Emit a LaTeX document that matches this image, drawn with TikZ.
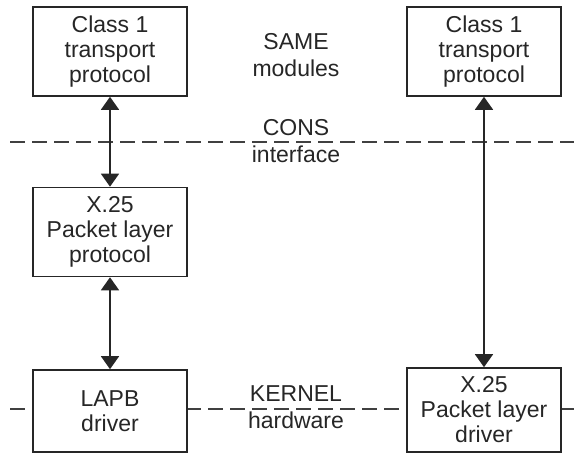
\documentclass[tikz,border=0pt]{standalone}
\usepackage{fontspec}
\setmainfont{Liberation Sans}
\usetikzlibrary{arrows.meta}

\begin{document}
\begin{tikzpicture}[x=0.5pt, y=-0.5pt,
    box/.style={draw=black!85, line width=0.8pt, fill=white, align=center,
      minimum width=77pt, minimum height=44.5pt, inner sep=0pt,
      font=\fontsize{11.5}{12.5}\selectfont, text=black!85},
    lbl/.style={align=center, inner sep=0pt, font=\fontsize{11.5}{13.5}\selectfont, text=black!85},
    boundary/.style={draw=black!75, line width=0.8pt, dash pattern=on 7.5pt off 3.5pt},
    both/.style={draw=black!85, line width=0.8pt,
      {Triangle[width=9pt,length=6.5pt]}-{Triangle[width=9pt,length=6.5pt]}}
  ]
  \useasboundingbox (0,0) rectangle (574,453);

  % dashed boundaries
  \coordinate (consL) at (10,142);
  \coordinate (consR) at (574,142);
  \coordinate (kernL) at (10,409);
  \coordinate (kernR) at (574,409);
  \draw[boundary] (consL) -- (consR);
  \draw[boundary] (kernL) -- (kernR);

  % left stack
  \node[box] (tpL) at (110,51.5) {Class 1\\transport\\protocol};
  \node[box] (plp) at (110,232) {X.25\\Packet layer\\protocol};
  \node[box, minimum height=41pt] (lapb) at (110,411) {LAPB\\driver};

  % right stack
  \node[box] (tpR) at (484,51.5) {Class 1\\transport\\protocol};
  \node[box, minimum height=42pt] (pld) at (484,410) {X.25\\Packet layer\\driver};

  % labels
  \node[lbl] (same) at (296,55) {SAME\\modules};
  \node[lbl] (cons) at (296,141.5) {CONS\\interface};
  \node[lbl] (kern) at (296,407.5) {KERNEL\\hardware};

  \draw[both] (tpL) -- (plp);
  \draw[both] (plp) -- (lapb);
  \draw[both] (tpR) -- (pld);
\end{tikzpicture}
\end{document}
